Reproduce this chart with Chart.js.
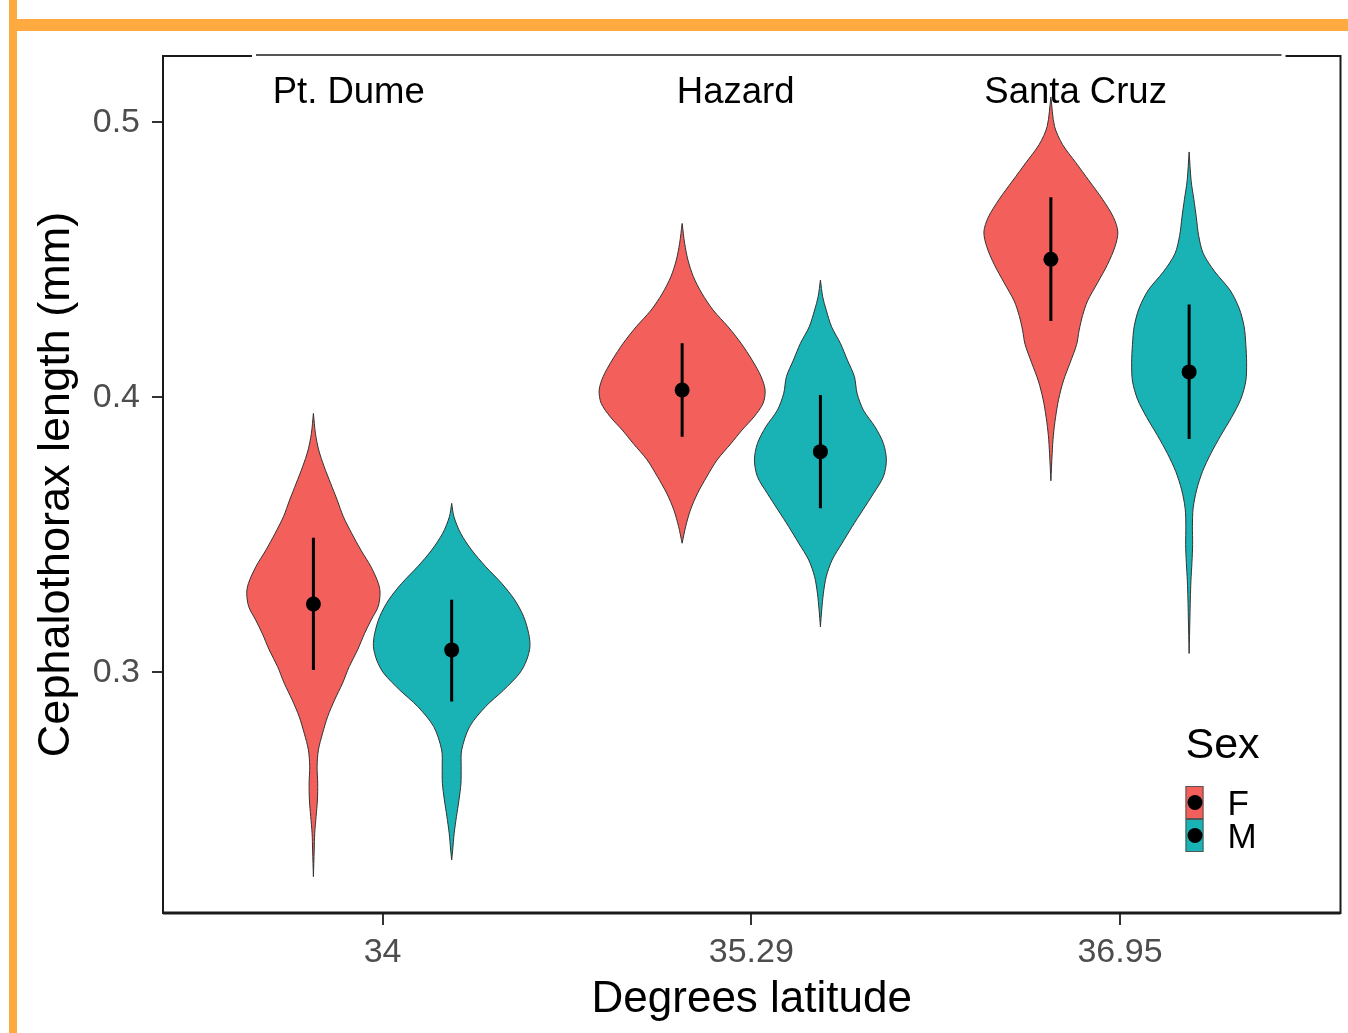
<!DOCTYPE html>
<html>
<head>
<meta charset="utf-8">
<title>Cephalothorax length by latitude</title>
<script src="https://cdn.jsdelivr.net/npm/chart.js@4.4.1/dist/chart.umd.min.js"></script>
<style>
  html, body { margin: 0; padding: 0; background: #fff; }
  canvas { display: block; }
</style>
</head>
<body>
<canvas id="myChart" width="1348" height="1033"></canvas>
<script>
const latitudes = ["34", "35.29", "36.95"];
const sites = ["Pt. Dume", "Hazard", "Santa Cruz"];
const sexes = ["F", "M"];
const yTicks = [0.3, 0.4, 0.5];

// violin outlines: length (mm) and relative density
const ptDumeF_len = [0.3941, 0.3869, 0.3808, 0.3747, 0.3687, 0.3626, 0.3565, 0.3505, 0.3444, 0.3384, 0.3323, 0.3287, 0.3238, 0.319, 0.3141, 0.3081, 0.302, 0.296, 0.2899, 0.2838, 0.2778, 0.2717, 0.2656, 0.2596, 0.2535, 0.2475, 0.2414, 0.2353, 0.2256];
const ptDumeF_dens = [0, 2, 5.3, 10.8, 17.2, 23.8, 30, 38.3, 47.5, 57.5, 65, 66.7, 64.7, 57.8, 51.2, 44.2, 35.8, 29.2, 21.2, 14.2, 9.2, 5, 3.7, 4.3, 4, 2.7, 1.3, 0.8, 0];

const ptDumeM_len = [0.3614, 0.3565, 0.3505, 0.3444, 0.3384, 0.3323, 0.3263, 0.3202, 0.3141, 0.3093, 0.3044, 0.2996, 0.2935, 0.2875, 0.2802, 0.2717, 0.2656, 0.2596, 0.2535, 0.2475, 0.2414, 0.2353, 0.2317];
const ptDumeM_dens = [0, 2.3, 9, 20, 34, 50, 63, 72, 77, 78.3, 75, 68, 52, 34, 18, 10, 9.5, 9.3, 7.3, 4.8, 2.5, 1, 0];

const hazardF_len = [0.4632, 0.456, 0.4499, 0.4438, 0.4378, 0.4317, 0.4256, 0.4196, 0.4135, 0.4075, 0.4026, 0.3978, 0.3929, 0.3881, 0.3832, 0.3772, 0.3711, 0.3651, 0.359, 0.3529, 0.3469];
const hazardF_dens = [0, 2.5, 5.8, 11.3, 19.7, 31, 46, 59, 70, 79, 83, 81, 72, 60, 49, 35, 24.7, 15.5, 8.3, 3.5, 0];

const hazardM_len = [0.4426, 0.4365, 0.4317, 0.4256, 0.4196, 0.4135, 0.4075, 0.4014, 0.3953, 0.3893, 0.3832, 0.3772, 0.3711, 0.3651, 0.359, 0.3529, 0.3469, 0.3408, 0.3347, 0.3287, 0.3226, 0.3165];
const hazardM_dens = [0, 2.3, 5.8, 11.2, 20, 27, 34, 36.7, 43, 54.5, 63, 66, 63, 53.3, 42.5, 31.7, 21.7, 11.7, 5.8, 3, 1.3, 0];

const santaCruzF_len = [0.5092, 0.4985, 0.4919, 0.4853, 0.4787, 0.472, 0.4654, 0.4601, 0.4548, 0.4483, 0.4416, 0.435, 0.4297, 0.4244, 0.4192, 0.4125, 0.4059, 0.3993, 0.3927, 0.3861, 0.3795, 0.3696];
const santaCruzF_dens = [0, 3.7, 11.7, 25, 38.3, 51.7, 62.7, 67, 64.2, 56.7, 46.7, 36.7, 31.7, 28.3, 25.8, 19.2, 12.5, 7.8, 4.7, 2.5, 1.3, 0];

const santaCruzM_len = [0.4892, 0.4787, 0.472, 0.4654, 0.4588, 0.4522, 0.4456, 0.439, 0.4324, 0.4257, 0.4192, 0.4125, 0.4059, 0.3993, 0.3927, 0.3861, 0.3795, 0.3729, 0.3663, 0.3596, 0.353, 0.3464, 0.3398, 0.3332, 0.3266, 0.32, 0.3068];
const santaCruzM_dens = [0, 2, 4.7, 7.2, 9.5, 14.2, 25.8, 40.8, 50, 55, 56.7, 57.5, 56.7, 51.7, 42.5, 31.7, 21.7, 13.3, 7.5, 4, 3.3, 3.5, 2.8, 1.8, 1.2, 0.8, 0];

// mean and error bar ends, one per site
const meanF = [0.3248, 0.4026, 0.4502];
const lowF = [0.3008, 0.3856, 0.4277];
const highF = [0.3489, 0.4196, 0.4727];
const meanM = [0.3081, 0.3802, 0.4092];
const lowM = [0.2893, 0.3596, 0.3848];
const highM = [0.3263, 0.4008, 0.4337];

const sexColors = ["#f3605c", "#19b2b5"];
const dodge = [-0.1875, 0.1875];
const maxHalfWidth = 0.225;

Chart.defaults.font.family = "'Liberation Sans', Arial, Helvetica, sans-serif";

const violins = [
  { site: 0, sex: 0, len: ptDumeF_len, dens: ptDumeF_dens },
  { site: 0, sex: 1, len: ptDumeM_len, dens: ptDumeM_dens },
  { site: 1, sex: 0, len: hazardF_len, dens: hazardF_dens },
  { site: 1, sex: 1, len: hazardM_len, dens: hazardM_dens },
  { site: 2, sex: 0, len: santaCruzF_len, dens: santaCruzF_dens },
  { site: 2, sex: 1, len: santaCruzM_len, dens: santaCruzM_dens },
];

const maxDens = Math.max(...violins.map((v) => Math.max(...v.dens)));

let datasets = [];

// violins: right edge top to bottom, then left edge back up
violins.forEach((v) => {
  const center = v.site + 1 + dodge[v.sex];
  const k = maxHalfWidth / maxDens;
  let pts = [];
  for (let i = 0; i < v.len.length; i++)
    pts.push({ x: center + v.dens[i] * k, y: v.len[i] });
  for (let i = v.len.length - 1; i >= 0; i--)
    pts.push({ x: center - v.dens[i] * k, y: v.len[i] });
  datasets.push({
    label: sites[v.site] + " " + sexes[v.sex],
    data: pts,
    showLine: true,
    fill: "shape",
    backgroundColor: sexColors[v.sex],
    borderColor: "#333",
    borderWidth: 1,
    pointRadius: 0,
    tension: 0.3,
    order: 3,
  });
});

// error bars
const lows = [lowF, lowM];
const highs = [highF, highM];
const means = [meanF, meanM];
for (let s = 0; s < sexes.length; s++) {
  for (let i = 0; i < sites.length; i++) {
    const c = i + 1 + dodge[s];
    datasets.push({
      data: [
        { x: c, y: lows[s][i] },
        { x: c, y: highs[s][i] },
      ],
      showLine: true,
      fill: false,
      borderColor: "#000",
      borderWidth: 3,
      pointRadius: 0,
      order: 2,
    });
  }
}

// means
let meanPts = [];
for (let s = 0; s < sexes.length; s++)
  for (let i = 0; i < sites.length; i++)
    meanPts.push({ x: i + 1 + dodge[s], y: means[s][i] });
datasets.push({
  data: meanPts,
  showLine: false,
  pointRadius: 7.5,
  pointBackgroundColor: "#000",
  pointBorderWidth: 0,
  order: 1,
});

const siteLabelX = [0.702, 1.798, 2.632];

const framePlugin = {
  id: "frame",
  beforeDraw(chart) {
    const ctx = chart.ctx;
    ctx.save();
    ctx.fillStyle = "#fff";
    ctx.fillRect(0, 0, chart.width, chart.height);
    ctx.fillStyle = "#ffaa40";
    ctx.fillRect(9, 0, 8, chart.height);
    ctx.fillRect(9, 19, chart.width - 9, 12);
    ctx.restore();
  },
  afterDatasetsDraw(chart) {
    const ctx = chart.ctx;
    const ca = chart.chartArea;
    const xs = chart.scales.x;
    ctx.save();

    // panel border
    ctx.strokeStyle = "#1a1a1a";
    ctx.lineWidth = 2;
    ctx.beginPath();
    ctx.moveTo(ca.left + 89, ca.top);
    ctx.lineTo(ca.left, ca.top);
    ctx.lineTo(ca.left, ca.bottom);
    ctx.lineTo(ca.right, ca.bottom);
    ctx.lineTo(ca.right, ca.top);
    ctx.lineTo(ca.right - 55, ca.top);
    ctx.stroke();
    ctx.lineWidth = 3;
    ctx.beginPath();
    ctx.moveTo(ca.left, ca.bottom);
    ctx.lineTo(ca.right, ca.bottom);
    ctx.stroke();
    ctx.strokeStyle = "#555";
    ctx.lineWidth = 2;
    ctx.beginPath();
    ctx.moveTo(ca.left + 93, ca.top - 1);
    ctx.lineTo(ca.right - 59, ca.top - 1);
    ctx.stroke();

    // site labels
    ctx.fillStyle = "#000";
    ctx.font = "36.5px 'Liberation Sans', Arial, sans-serif";
    ctx.textAlign = "left";
    ctx.textBaseline = "alphabetic";
    sites.forEach((s, i) => {
      ctx.fillText(s, xs.getPixelForValue(siteLabelX[i]), ca.top + 46.5);
    });

    // legend
    const lx = ca.right - 155;
    ctx.font = "43px 'Liberation Sans', Arial, sans-serif";
    ctx.fillText("Sex", lx, ca.bottom - 155);
    ctx.font = "35px 'Liberation Sans', Arial, sans-serif";
    sexes.forEach((s, i) => {
      const top = ca.bottom - 127 + i * 33;
      ctx.fillStyle = sexColors[i];
      ctx.fillRect(lx, top, 18, 33);
      ctx.strokeStyle = "#555";
      ctx.lineWidth = 1;
      ctx.strokeRect(lx + 0.5, top + 0.5, 17, 32);
      ctx.fillStyle = "#000";
      ctx.beginPath();
      ctx.arc(lx + 9.5, top + 16.5, 7.5, 0, Math.PI * 2);
      ctx.fill();
      ctx.fillText(s, lx + 42, top + 29);
    });
    ctx.restore();
  },
};

let chart = new Chart("myChart", {
  type: "scatter",
  data: { datasets: datasets },
  options: {
    responsive: false,
    animation: false,
    events: [],
    devicePixelRatio: 1,
    layout: { padding: { top: 56, right: 2, left: 0, bottom: 0 } },
    plugins: {
      legend: { display: false },
      tooltip: { enabled: false },
    },
    scales: {
      x: {
        type: "linear",
        min: 0.4046,
        max: 3.598,
        afterBuildTicks: (s) => {
          s.ticks = latitudes.map((_, i) => ({ value: i + 1 }));
        },
        afterFit: (s) => {
          s.height = 120;
        },
        ticks: {
          callback: (v) => latitudes[Math.round(v) - 1],
          color: "#4d4d4d",
          font: { size: 34 },
          padding: 7,
          maxRotation: 0,
          autoSkip: false,
        },
        grid: {
          drawOnChartArea: false,
          drawTicks: true,
          tickLength: 12,
          color: "#333",
          lineWidth: 2,
        },
        border: { display: false },
        title: {
          display: true,
          text: "Degrees latitude",
          color: "#000",
          font: { size: 44 },
          padding: { top: 0, bottom: 7 },
        },
      },
      y: {
        type: "linear",
        min: 0.2124,
        max: 0.5241,
        afterBuildTicks: (s) => {
          s.ticks = yTicks.map((v) => ({ value: v }));
        },
        afterFit: (s) => {
          s.width = 163;
        },
        ticks: {
          callback: (v) => v.toFixed(1),
          color: "#4d4d4d",
          font: { size: 34 },
          padding: 12,
        },
        grid: {
          drawOnChartArea: false,
          drawTicks: true,
          tickLength: 11,
          color: "#333",
          lineWidth: 2,
        },
        border: { display: false },
        title: {
          display: true,
          text: "Cephalothorax length (mm)",
          color: "#000",
          font: { size: 45 },
          padding: { top: 30, bottom: 0 },
        },
      },
    },
  },
  plugins: [framePlugin],
});
</script>
</body>
</html>
